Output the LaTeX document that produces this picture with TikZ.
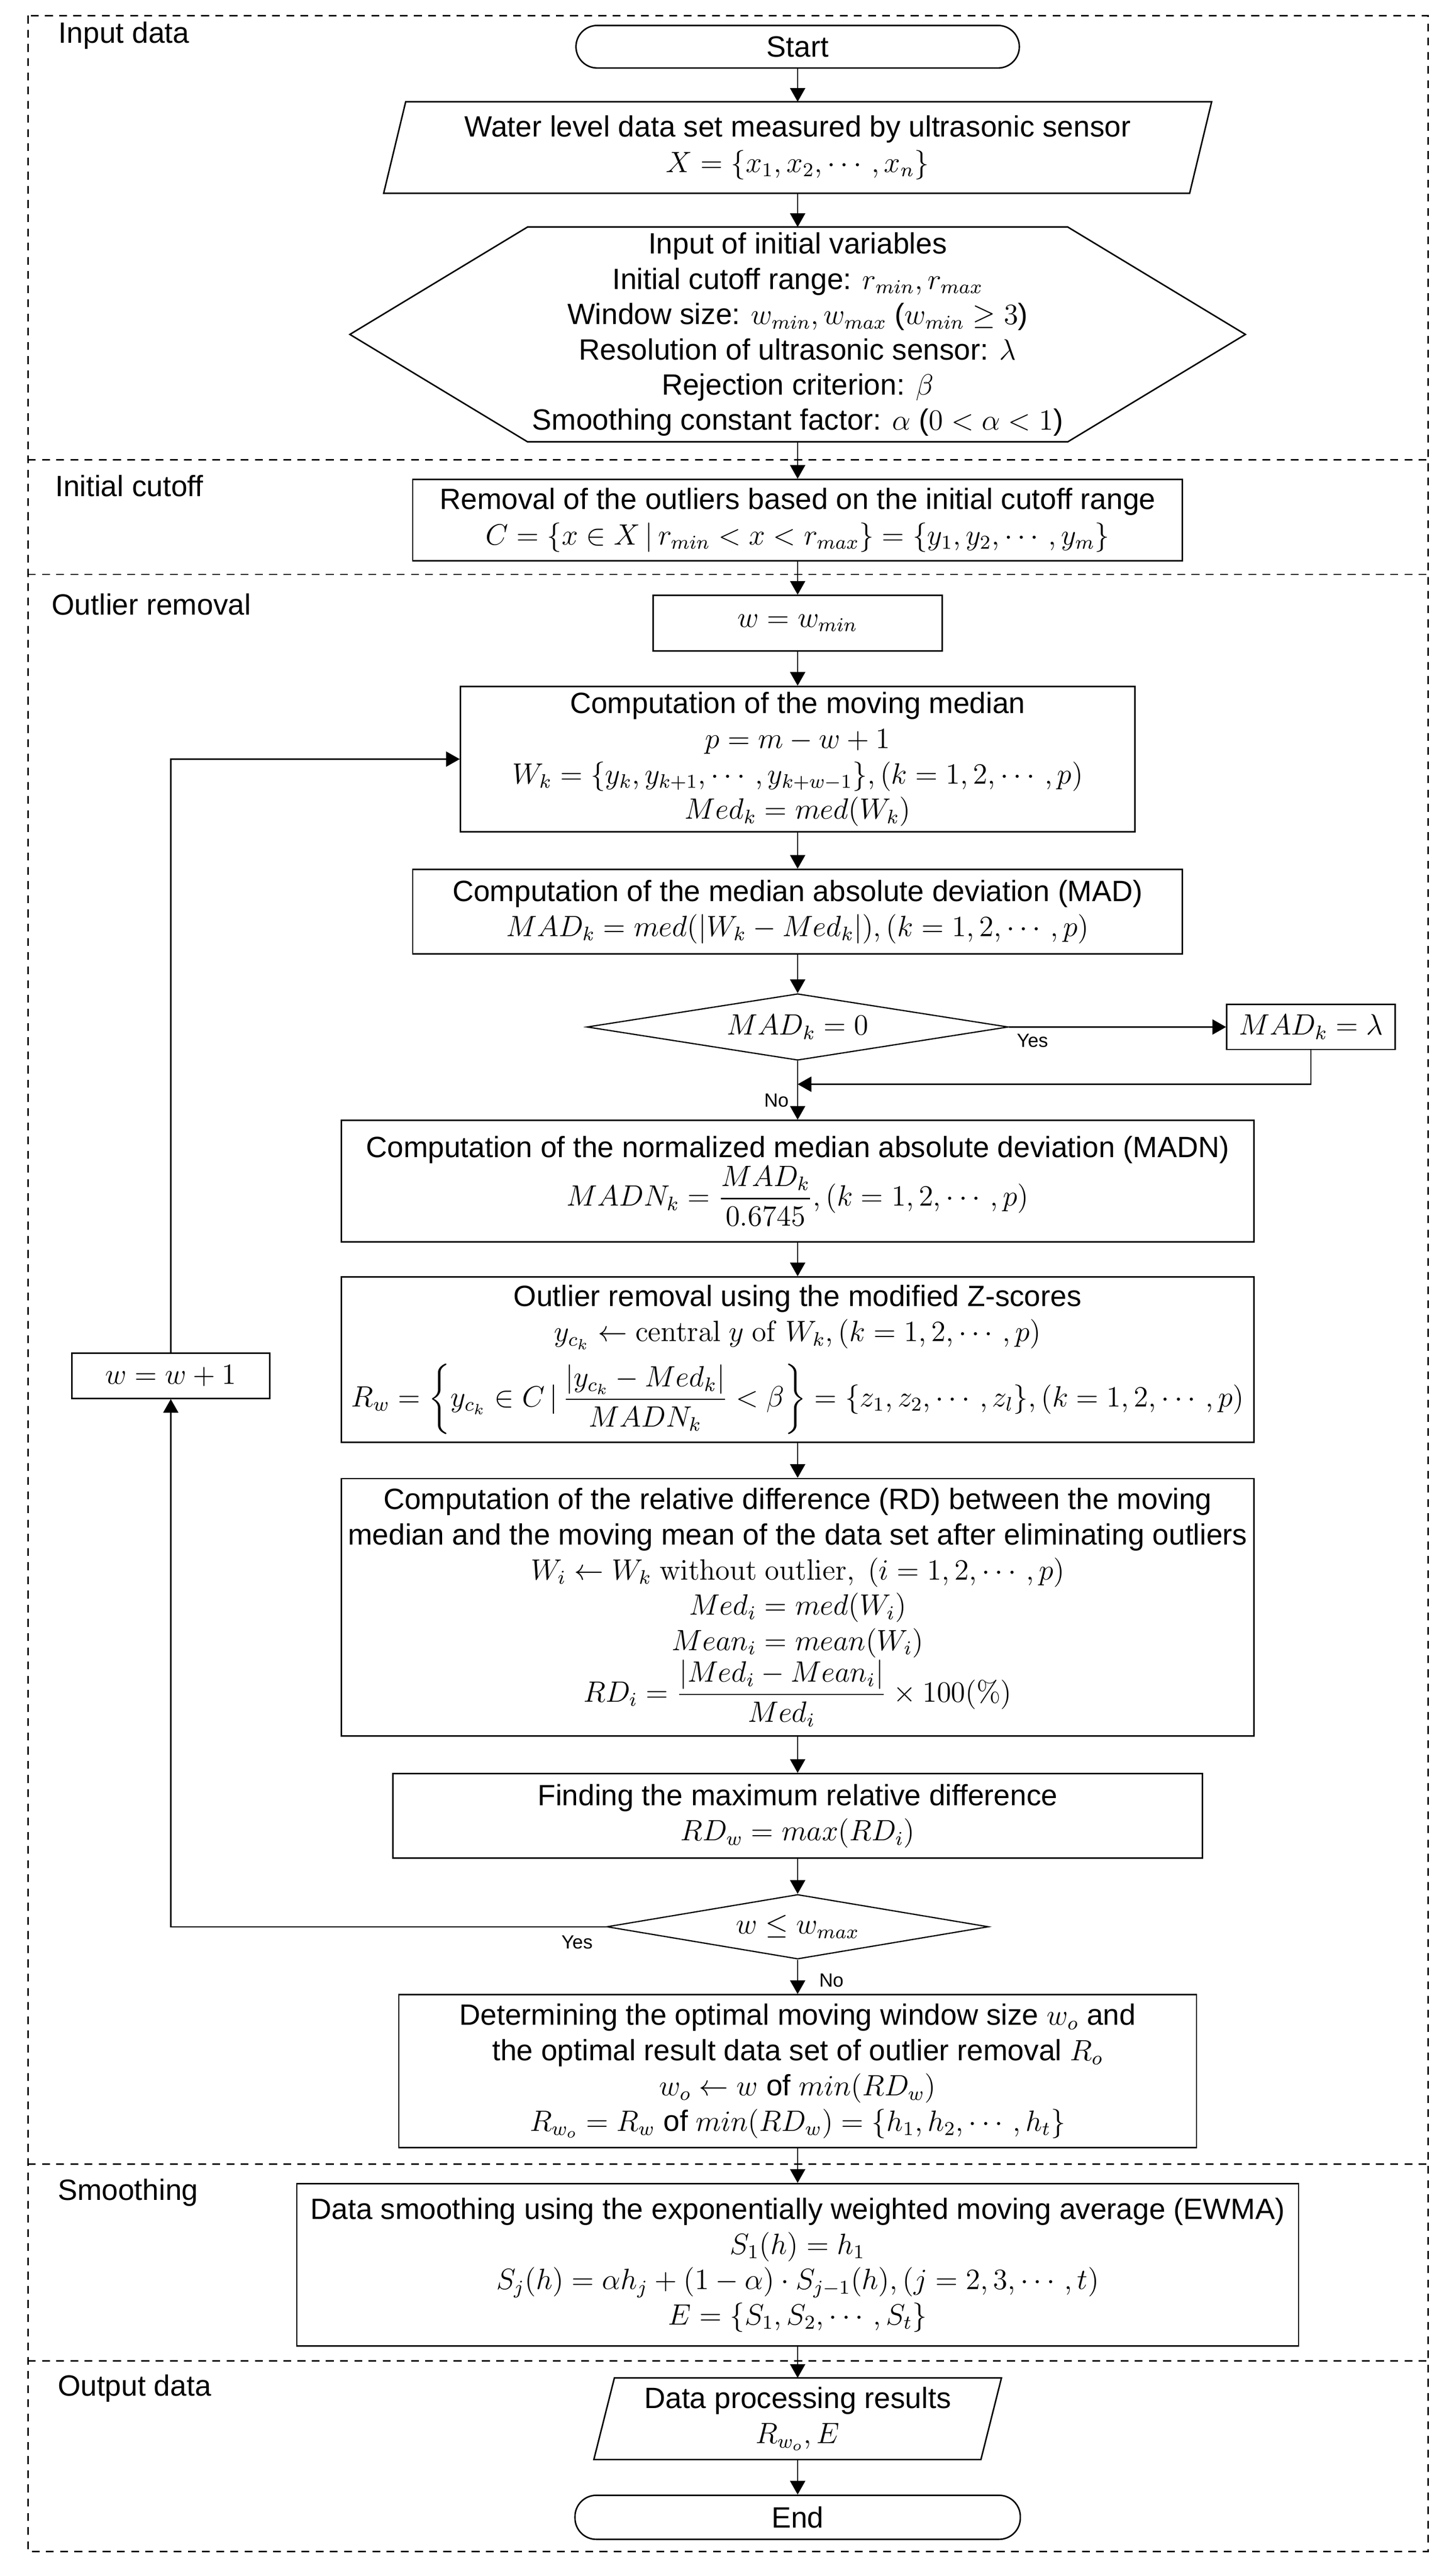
\documentclass[tikz,border=0pt]{standalone}
\usepackage{amsmath}
\usepackage[no-math]{fontspec}
\setmainfont{Liberation Sans}
\usetikzlibrary{shapes.geometric,arrows.meta}
\newcommand\myfs{\fontsize{12}{14.4}\selectfont}
\newcommand\mysmall{\fontsize{7.8}{9}\selectfont}
\tikzset{
  frm/.style={line width=0.6pt, dash pattern=on 3.2pt off 2.6pt},
  shp/.style={draw, line width=0.6pt},
  txt/.style={align=center, inner sep=0pt, font=\myfs},
  box/.style={draw, line width=0.6pt, align=center, inner sep=1pt, font=\myfs},
  term/.style={box, rounded corners=8.7pt, minimum width=181.2pt},
  dia/.style={draw, line width=0.5pt, shape=diamond, inner sep=0pt, font=\myfs},
  arr/.style={line width=0.5pt, -{Triangle[length=5.6pt,width=6.2pt]}},
  ln/.style={line width=0.5pt},
  sect/.style={anchor=base west, inner sep=0pt, font=\myfs},
  yn/.style={inner sep=0pt, font=\mysmall}
}
\begin{document}
\begin{tikzpicture}[x=1pt,y=-1pt]
\useasboundingbox (0,0) rectangle (592.2,1053);
% frame and section dividers
\draw[frm] (11.4,6.4) rectangle (583.6,1043);
\draw[frm] (11.4,188) -- (583.6,188);
\draw[frm] (11.4,234.8) -- (583.6,234.8);
\draw[frm] (11.4,884.6) -- (583.6,884.6);
\draw[frm] (11.4,965) -- (583.6,965);
% section labels
\node[sect] (lInput) at (23.8,17.6) {Input data};
\node[sect] (lCut) at (22.4,203) {Initial cutoff};
\node[sect] (lOut) at (21,251.4) {Outlier removal};
\node[sect] (lSmooth) at (23.4,899.4) {Smoothing};
\node[sect] (lData) at (23.4,979.4) {Output data};
% nodes
\node[term, minimum height=17.4pt] (start) at (326,19.1) {Start};
\node[txt, minimum width=338pt, minimum height=37pt] (inp) at (326,60.3)
  {Water level data set measured by ultrasonic sensor\\$X=\{x_1,x_2,\cdots,x_n\}$};
\draw[shp] ([xshift=9pt]inp.north west) -- (inp.north east) -- ([xshift=-9pt]inp.south east) -- (inp.south west) -- cycle;
\node[txt] (hex) at (326,136.7)
  {Input of initial variables\\
   Initial cutoff range: $r_{min}, r_{max}$\\
   Window size: $w_{min}, w_{max}$ ($w_{min}\geq 3$)\\
   Resolution of ultrasonic sensor: $\lambda$\\
   Rejection criterion: $\beta$\\
   Smoothing constant factor: $\alpha$ ($0<\alpha<1$)};
\coordinate (hexT) at (326,92.8);
\coordinate (hexB) at (326,180.6);
\draw[shp] (215.6,92.8) -- (436.4,92.8) -- (509,136.7) -- (436.4,180.6) -- (215.6,180.6) -- (143,136.7) -- cycle;
\node[box, minimum width=314.6pt, minimum height=33.2pt] (rem) at (326,212.6)
  {Removal of the outliers based on the initial cutoff range\\
   $C=\{x\in X\,|\,r_{min}<x<r_{max}\}=\{y_1,y_2,\cdots,y_m\}$};
\node[box, minimum width=118pt, minimum height=22.6pt] (wmin) at (326,254.7) {$w=w_{min}$};
\node[box, minimum width=275.6pt, minimum height=59.4pt] (mm) at (326,310.3)
  {Computation of the moving median\\
   $p=m-w+1$\\
   $W_k=\{y_k,y_{k+1},\cdots,y_{k+w-1}\},(k=1,2,\cdots,p)$\\
   $Med_k=med(W_k)$};
\node[box, minimum width=314.6pt, minimum height=34.6pt] (mad) at (326,372.7)
  {Computation of the median absolute deviation (MAD)\\
   $MAD_k=med(|W_k-Med_k|),(k=1,2,\cdots,p)$};
\node[dia, aspect=6.33, minimum width=172.2pt, minimum height=27.2pt] (d1) at (326,419.8) {$MAD_k=0$};
\node[box, minimum width=68.8pt, minimum height=18.4pt] (lam) at (535.8,419.8) {$MAD_k=\lambda$};
\coordinate (join) at (326,443.2);
\node[box, minimum width=373pt, minimum height=49.6pt] (madn) at (326,482.8)
  {Computation of the normalized median absolute deviation (MADN)\\
   $MADN_k=\dfrac{MAD_k}{0.6745},(k=1,2,\cdots,p)$};
\node[box, minimum width=373pt, minimum height=67.6pt] (zs) at (326,555.8)
  {Outlier removal using the modified Z-scores\\
   $y_{c_k}\leftarrow\mathrm{central}\ y\ \mathrm{of}\ W_k,(k=1,2,\cdots,p)$\\[5pt]
   $R_w=\left\{y_{c_k}\in C\,|\,\dfrac{|y_{c_k}-Med_k|}{MADN_k}<\beta\right\}=\{z_1,z_2,\cdots,z_l\},(k=1,2,\cdots,p)$};
\node[box, minimum width=81pt, minimum height=18.4pt] (winc) at (69.8,562.4) {$w=w+1$};
\node[box, minimum width=373pt, minimum height=105.2pt] (rd) at (326,657)
  {Computation of the relative difference (RD) between the moving\\
   median and the moving mean of the data set after eliminating outliers\\
   $W_i\leftarrow W_k\ \mathrm{without\ outlier},\ (i=1,2,\cdots,p)$\\
   $Med_i=med(W_i)$\\
   $Mean_i=mean(W_i)$\\
   $RD_i=\dfrac{|Med_i-Mean_i|}{Med_i}\times 100(\%)$};
\node[box, minimum width=330.8pt, minimum height=34.6pt] (fmax) at (326,742.3)
  {Finding the maximum relative difference\\
   $RD_w=max(RD_i)$};
\node[dia, aspect=5.9, minimum width=156pt, minimum height=26.4pt] (d2) at (326,787.6) {$w\leq w_{max}$};
\node[box, minimum width=326pt, minimum height=62.4pt] (det) at (326,846.6)
  {Determining the optimal moving window size $w_o$ and\\
   the optimal result data set of outlier removal $R_o$\\
   $w_o\leftarrow w$ of $min(RD_w)$\\
   $R_{w_o}=R_w$ of $min(RD_w)=\{h_1,h_2,\cdots,h_t\}$};
\node[box, minimum width=409.4pt, minimum height=66.4pt] (ewma) at (326,925.8)
  {Data smoothing using the exponentially weighted moving average (EWMA)\\
   $S_1(h)=h_1$\\
   $S_j(h)=\alpha h_j+(1-\alpha)\cdot S_{j-1}(h),(j=2,3,\cdots,t)$\\
   $E=\{S_1,S_2,\cdots,S_t\}$};
\node[txt, minimum width=166.2pt, minimum height=33pt] (out) at (326,988.7)
  {Data processing results\\$R_{w_o},E$};
\draw[shp] ([xshift=8.4pt]out.north west) -- (out.north east) -- ([xshift=-8.4pt]out.south east) -- (out.south west) -- cycle;
\node[term, minimum width=182pt, minimum height=18pt] (end) at (326,1029) {End};
% labels
\node[yn, anchor=base west] (yes1) at (415.4,428) {Yes};
\node[yn, anchor=base east] (no1) at (322.5,452.4) {No};
\node[yn, anchor=base east] (yes2) at (242.4,796.6) {Yes};
\node[yn, anchor=base west] (no2) at (334.6,812.2) {No};
% connectors
\draw[arr] (start) -- (inp.north);
\draw[arr] (inp.south) -- (hexT);
\draw[arr] (hexB) -- (rem);
\draw[arr] (rem) -- (wmin);
\draw[arr] (wmin) -- (mm);
\draw[arr] (mm) -- (mad);
\draw[arr] (mad) -- (d1);
\draw[arr] (d1.east) -- (lam.west);
\draw[arr] (lam.south) |- (join);
\draw[arr] (d1.south) -- (madn.north);
\draw[arr] (madn) -- (zs);
\draw[arr] (zs) -- (rd);
\draw[arr] (rd) -- (fmax);
\draw[arr] (fmax) -- (d2);
\draw[arr] (d2.south) -- (det.north);
\draw[arr] (d2.west) -| (winc.south);
\draw[arr] (winc.north) |- (mm.west);
\draw[arr] (det) -- (ewma);
\draw[arr] (ewma) -- (out.north);
\draw[arr] (out.south) -- (end);
\end{tikzpicture}
\end{document}
